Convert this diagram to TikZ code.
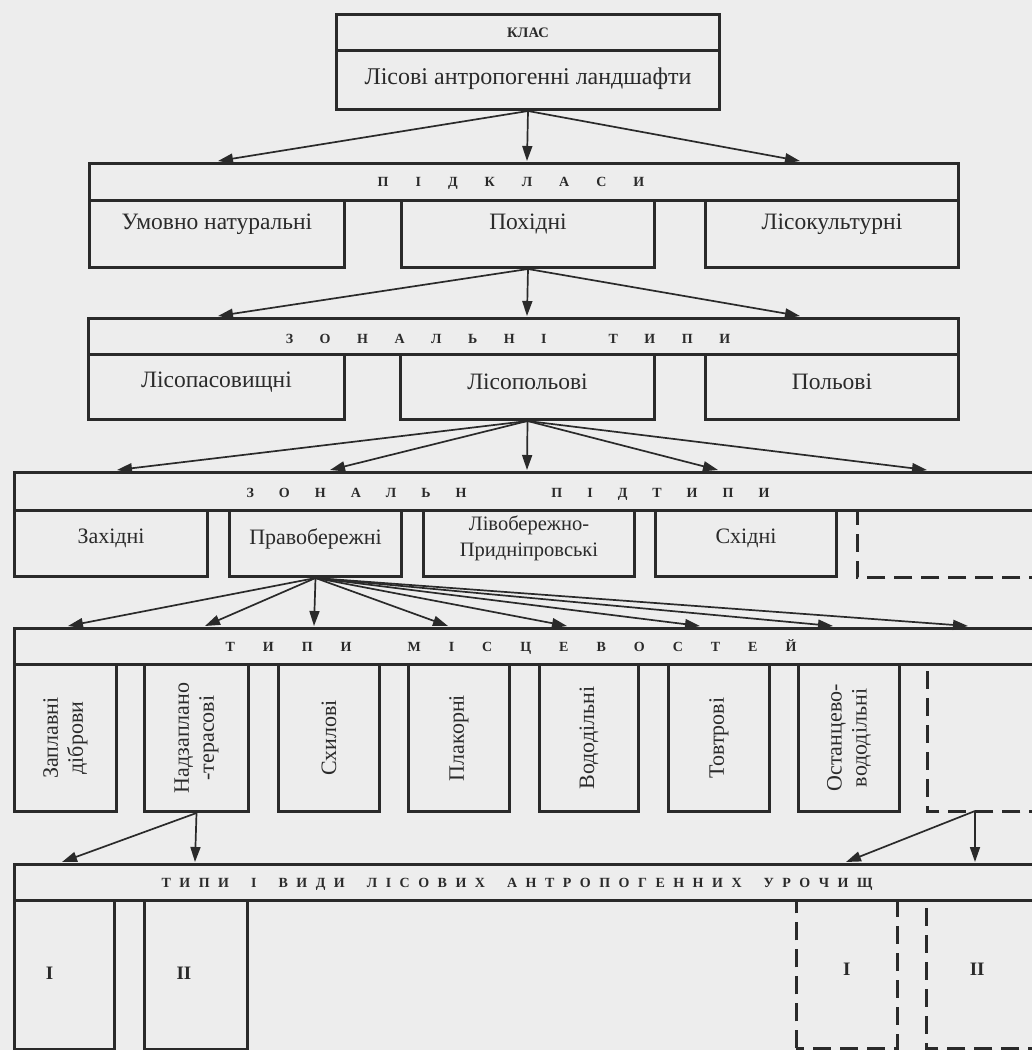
\documentclass[tikz,border=0pt]{standalone}
\usepackage{fontspec}
\setmainfont{Liberation Serif}
\usetikzlibrary{arrows.meta}
\definecolor{ink}{HTML}{2A2A2A}
\definecolor{paper}{HTML}{EDEDED}
\newlength\lgapx
\newcommand\gpx{\hspace{\lgapx}}
\begin{document}
\begin{tikzpicture}[x=1pt,y=-1pt,
  box/.style={draw=ink, line width=3pt, inner sep=0pt, anchor=north west, text=ink, align=center},
  hdr/.style={text=ink, font=\bfseries\fontsize{14}{14}\selectfont, inner sep=0pt},
  arr/.style={draw=ink, line width=1.7pt, -{Triangle[length=15pt,width=10pt]}},
  dsh/.style={draw=ink, line width=3pt, dash pattern=on 18pt off 9pt},
  txt/.style={text=ink, inner sep=0pt, align=center},
  fa/.style={txt, font=\fontsize{24}{28}\selectfont},
  fb/.style={txt, font=\fontsize{23.5}{26}\selectfont},
  fc/.style={txt, font=\fontsize{22}{25}\selectfont},
  fd/.style={txt, font=\fontsize{20.5}{26}\selectfont},
  fr/.style={txt, font=\fontsize{22}{25}\selectfont, rotate=90},
  fn/.style={txt, font=\bfseries\fontsize{19}{19}\selectfont},
  nobox/.style={inner sep=0pt, anchor=north west}]
\path[use as bounding box, fill=paper] (0,0) rectangle (1032,1050);

% ---- top
\node[box, minimum width=383pt, minimum height=36pt, font=\bfseries\fontsize{14.5}{14.5}\selectfont] (klas) at (335,13) {КЛАС};
\node[box, minimum width=383pt, minimum height=59pt] (main) at (335,49) {};
\node[fa] (mainT) at ([yshift=1pt]main.center) {Лісові антропогенні ландшафти};

% ---- row 2
\node[box, minimum width=869pt, minimum height=37pt] (h2) at (88,162) {};
\node[hdr] (t2) at (511,183) {\setlength\lgapx{27pt}П\gpx І\gpx Д\gpx К\gpx Л\gpx А\gpx С\gpx И};
\node[box, minimum width=255pt, minimum height=67pt] (b21) at (88,199) {};
\node[fb] at ([yshift=10pt]b21.center) {Умовно натуральні};
\node[box, minimum width=253pt, minimum height=67pt] (b22) at (400,199) {};
\node[fb] at ([yshift=10pt]b22.center) {Похідні};
\node[box, minimum width=253pt, minimum height=67pt] (b23) at (704,199) {};
\node[fb] at ([yshift=10pt]b23.center) {Лісокультурні};

% ---- row 3
\node[box, minimum width=870pt, minimum height=36pt] (h3) at (87,317) {};
\node[hdr] (t3) at (508,339) {\setlength\lgapx{26.5pt}З\gpx О\gpx Н\gpx А\gpx Л\gpx Ь\gpx Н\gpx І\hspace{62pt}Т\gpx И\gpx П\gpx И};
\node[box, minimum width=256pt, minimum height=65pt] (b31) at (87,353) {};
\node[fb] at ([yshift=5pt]b31.center) {Лісопасовищні};
\node[box, minimum width=254pt, minimum height=65pt] (b32) at (399,353) {};
\node[fb] at ([yshift=5pt]b32.center) {Лісопольові};
\node[box, minimum width=253pt, minimum height=65pt] (b33) at (704,353) {};
\node[fb] at ([yshift=5pt]b33.center) {Польові};

% ---- row 4
\node[box, minimum width=1040pt, minimum height=38pt] (h4) at (13,471) {};
\node[hdr] (t4) at (508,494) {\setlength\lgapx{25pt}З\gpx О\gpx Н\gpx А\gpx Л\gpx Ь\gpx Н\hspace{85pt}П\gpx І\gpx Д\gpx Т\gpx И\gpx П\gpx И};
\node[box, minimum width=193pt, minimum height=66pt] (b41) at (13,509) {};
\node[fc] at ([yshift=5pt]b41.center) {Західні};
\node[box, minimum width=172pt, minimum height=66pt] (b42) at (228,509) {};
\node[fc] at ([yshift=5pt]b42.center) {Правобережні};
\node[box, minimum width=211pt, minimum height=66pt] (b43) at (422,509) {};
\node[fd] at ([yshift=5pt]b43.center) {Лівобережно-\\Придніпровські};
\node[box, minimum width=181pt, minimum height=66pt] (b44) at (654,509) {};
\node[fc] at ([yshift=5pt]b44.center) {Східні};
\node[nobox, minimum width=190pt, minimum height=68pt] (d45) at (857,509) {};
\draw[dsh] (d45.south east) -- (d45.south west) -- (d45.north west);

% ---- row 5
\node[box, minimum width=1040pt, minimum height=36pt] (h5) at (13,627) {};
\node[hdr] (t5) at (511,647) {\setlength\lgapx{28pt}Т\gpx И\gpx П\gpx И\hspace{56pt}М\gpx І\gpx С\gpx Ц\gpx Е\gpx В\gpx О\gpx С\gpx Т\gpx Е\gpx Й};
\node[box, minimum width=102pt, minimum height=147pt] (b51) at (13,663) {};
\node[fr] at (b51.center) {Заплавні\\діброви};
\node[box, minimum width=104pt, minimum height=147pt] (b52) at (143,663) {};
\node[fr] at (b52.center) {Надзаплано\\-терасові};
\node[box, minimum width=101pt, minimum height=147pt] (b53) at (277,663) {};
\node[fr] at (b53.center) {Схилові};
\node[box, minimum width=101pt, minimum height=147pt] (b54) at (407,663) {};
\node[fr] at (b54.center) {Плакорні};
\node[box, minimum width=99pt, minimum height=147pt] (b55) at (538,663) {};
\node[fr] at (b55.center) {Вододільні};
\node[box, minimum width=101pt, minimum height=147pt] (b56) at (667,663) {};
\node[fr] at (b56.center) {Товтрові};
\node[box, minimum width=101pt, minimum height=147pt] (b57) at (797,663) {};
\node[fr] at (b57.center) {Останцево-\\вододільні};
\node[nobox, minimum width=120pt, minimum height=148pt] (d58) at (927,663) {};
\draw[dsh] (d58.south east) -- (d58.south west) -- (d58.north west);

% ---- row 6
\node[box, minimum width=1040pt, minimum height=36pt] (h6) at (13,863) {};
\node[hdr] (t6) at (517,884) {\setlength\lgapx{8.5pt}Т\gpx И\gpx П\gpx И\hspace{22pt}І\hspace{22pt}В\gpx И\gpx Д\gpx И\hspace{22pt}Л\gpx І\gpx С\gpx О\gpx В\gpx И\gpx Х\hspace{22pt}А\gpx Н\gpx Т\gpx Р\gpx О\gpx П\gpx О\gpx Г\gpx Е\gpx Н\gpx Н\gpx И\gpx Х\hspace{22pt}У\gpx Р\gpx О\gpx Ч\gpx И\gpx Щ};
\node[box, minimum width=100pt, minimum height=149pt] (b61) at (13,899) {};
\node[fn] at ([xshift=-15pt,yshift=2pt]b61.center) {I};
\node[box, minimum width=103pt, minimum height=149pt] (b62) at (143,899) {};
\node[fn] at ([xshift=-12pt,yshift=2pt]b62.center) {II};
\node[nobox, minimum width=101pt, minimum height=149pt] (d63) at (796,899) {};
\draw[dsh] (d63.south west) -- (d63.north west);
\draw[dsh] (d63.north east) -- (d63.south east) -- (d63.south west);
\node[fn] at ([yshift=4pt]d63.center) {I};
\node[nobox, minimum width=120pt, minimum height=149pt] (d64) at (926,899) {};
\draw[dsh] (d64.south east) -- (d64.south west) -- (d64.north west);
\node[fn] at ([xshift=-9pt,yshift=4pt]d64.center) {II};

% ---- arrow targets
\coordinate (a2a) at (218,161);
\coordinate (a2b) at (527,161);
\coordinate (a2c) at (800,161);
\coordinate (a3a) at (218,316);
\coordinate (a3b) at (527,316);
\coordinate (a3c) at (800,316);
\coordinate (a4a) at (117,470);
\coordinate (a4b) at (330,470);
\coordinate (a4c) at (527,470);
\coordinate (a4d) at (718,470);
\coordinate (a4e) at (927,470);
\coordinate (a5a) at (68,626);
\coordinate (a5b) at (205,626);
\coordinate (a5c) at (314,626);
\coordinate (a5d) at (448,626);
\coordinate (a5e) at (567,626);
\coordinate (a5f) at (700,626);
\coordinate (a5g) at (833,626);
\coordinate (a5h) at (968,626);
\coordinate (a6a) at (62,862);
\coordinate (a6b) at (195,862);
\coordinate (s6) at (975,811);
\coordinate (a6c) at (846,862);
\coordinate (a6d) at (975,862);

\foreach \t in {a2a,a2b,a2c} \draw[arr] (main.south) -- (\t);
\foreach \t in {a3a,a3b,a3c} \draw[arr] (b22.south) -- (\t);
\foreach \t in {a4a,a4b,a4c,a4d,a4e} \draw[arr] (b32.south) -- (\t);
\foreach \t in {a5a,a5b,a5c,a5d,a5e,a5f,a5g,a5h} \draw[arr] (b42.south) -- (\t);
\foreach \t in {a6a,a6b} \draw[arr] (b52.south) -- (\t);
\foreach \t in {a6c,a6d} \draw[arr] (s6) -- (\t);
\end{tikzpicture}
\end{document}
